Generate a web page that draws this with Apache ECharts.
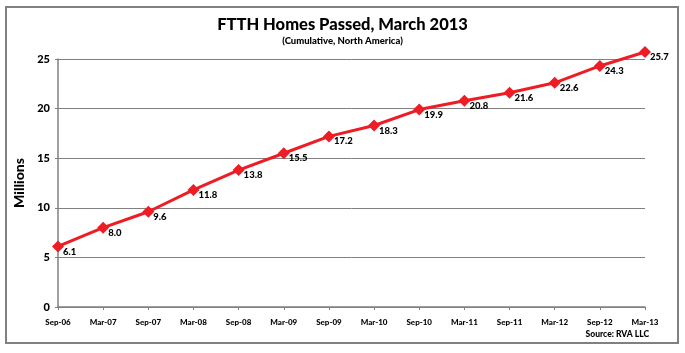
<!DOCTYPE html>
<html>
<head>
<meta charset="utf-8">
<script src="https://cdn.jsdelivr.net/npm/echarts@6/dist/echarts.min.js"></script>
<style>
  html, body { margin: 0; padding: 0; background: #fff; }
  #chart { width: 685px; height: 353px; }
</style>
</head>
<body>
<div id="chart"></div>
<script>
// 数据
const categories = ["Sep-06", "Mar-07", "Sep-07", "Mar-08", "Sep-08", "Mar-09", "Sep-09",
  "Mar-10", "Sep-10", "Mar-11", "Sep-11", "Mar-12", "Sep-12", "Mar-13"];
const homesPassed = [6.1, 8.0, 9.6, 11.8, 13.8, 15.5, 17.2, 18.3, 19.9, 20.8, 21.6, 22.6, 24.3, 25.7];
const yTicks = [0, 5, 10, 15, 20, 25];

const font = "Lato";
const heavy = 900;
const chart = echarts.init(document.getElementById("chart"));

const option = {
  backgroundColor: "#fff",
  animation: false,
  title: {
    text: "FTTH Homes Passed, March 2013",
    subtext: "(Cumulative, North America)",
    left: "center",
    top: 11,
    itemGap: 3,
    textStyle: { fontFamily: font, fontWeight: heavy, fontSize: 16.5, color: "#000" },
    subtextStyle: { fontFamily: font, fontWeight: heavy, fontSize: 9.5, color: "#000" }
  },
  grid: { left: 58, right: 40, top: 59, bottom: 46 },
  xAxis: {
    type: "category",
    data: categories,
    boundaryGap: false,
    axisLine: { lineStyle: { color: "#808080", width: 1.5 } },
    axisTick: { show: true, alignWithLabel: true, length: 3, lineStyle: { color: "#808080" } },
    axisLabel: { fontFamily: font, fontWeight: heavy, fontSize: 8, color: "#000", margin: 11, interval: 0 }
  },
  yAxis: {
    type: "value",
    min: yTicks[0],
    max: yTicks[yTicks.length - 1],
    interval: 5,
    name: "Millions",
    nameLocation: "middle",
    nameGap: 30,
    nameTextStyle: { fontFamily: font, fontWeight: heavy, fontSize: 14, color: "#000" },
    axisLine: { show: true, lineStyle: { color: "#808080", width: 1.5 } },
    axisTick: { show: true, length: 3, lineStyle: { color: "#808080" } },
    axisLabel: { fontFamily: font, fontWeight: heavy, fontSize: 11, color: "#000", margin: 8 },
    splitLine: { lineStyle: { color: "#808080", width: 1 } }
  },
  series: [
    {
      type: "line",
      data: homesPassed,
      clip: false,
      symbol: "diamond",
      symbolSize: 12,
      lineStyle: { color: "#ee1c25", width: 3 },
      itemStyle: { color: "#ee1c25" },
      label: {
        show: true,
        position: [11, 6],
        formatter: (p) => p.value.toFixed(1),
        fontFamily: font,
        fontWeight: heavy,
        fontSize: 9.5,
        color: "#000"
      }
    }
  ],
  graphic: [
    {
      type: "rect",
      shape: { x: 6, y: 7, width: 672, height: 336 },
      style: { fill: null, stroke: "#808080", lineWidth: 2 },
      silent: true
    },
    {
      type: "text",
      right: 36,
      top: 330,
      style: { text: "Source: RVA LLC", fontFamily: font, fontWeight: heavy, fontSize: 8.5, fill: "#000" }
    }
  ]
};

chart.setOption(option);
</script>
</body>
</html>
